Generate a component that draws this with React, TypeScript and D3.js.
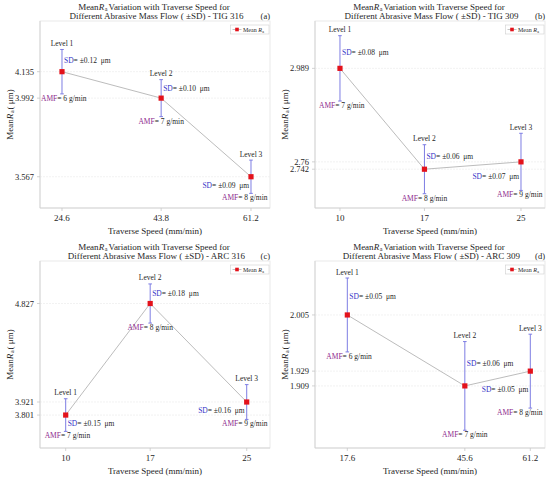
import React from "react";
import * as d3 from "d3";

// ── Data ─────────────────────────────────────────────────────────────
const panelTags = ["(a)", "(b)", "(c)", "(d)"];
const panelNames = ["TIG 316", "TIG 309", "ARC 316", "ARC 309"];
const levelLabels = ["Level 1", "Level 2", "Level 3"];

const traverseSpeeds = [
  [24.6, 43.8, 61.2],
  [10, 17, 25],
  [10, 17, 25],
  [17.6, 45.6, 61.2],
];
const meanRa = [
  [4.135, 3.992, 3.567],
  [2.989, 2.742, 2.76],
  [3.801, 4.827, 3.921],
  [2.005, 1.909, 1.929],
];
const sdValues = [
  [0.12, 0.1, 0.09],
  [0.08, 0.06, 0.07],
  [0.15, 0.18, 0.16],
  [0.05, 0.06, 0.05],
];
const amfValues = [
  [6, 7, 8],
  [7, 8, 9],
  [7, 8, 9],
  [6, 7, 8],
];
// axis limits of each panel
const xDomains = [
  [20.34, 64.88],
  [7.93, 26.99],
  [7.87, 26.93],
  [9.9, 64.7],
];
const yDomains = [
  [3.398, 4.409],
  [2.647, 3.105],
  [3.498, 5.218],
  [1.825, 2.078],
];

const FONT = "Liberation Serif";
const ERR_COLOR = "#7d7de3";
const SD_COLOR = "#3535c8";
const AMF_COLOR = "#8e2b8e";
const LINE_COLOR = "#b4b4b4";
const MARK_COLOR = "#e3121b";
const TEXT_COLOR = "#262626";

const margin = { top: 21, right: 5, bottom: 33, left: 40 };
const PW = 275;
const PH = 241;

function RaLabel({ size }: { size: number }) {
  return (
    <>
      <tspan fontStyle="italic">R</tspan>
      <tspan fontSize={size * 0.68} dx={size * 0.08} dy={size * 0.22}>a</tspan>
    </>
  );
}

function Panel({ idx, ox, oy }: { idx: number; ox: number; oy: number }) {
  const xs = traverseSpeeds[idx];
  const ys = meanRa[idx];
  const sds = sdValues[idx];
  const amfs = amfValues[idx];

  const left = margin.left;
  const right = PW - margin.right;
  const top = margin.top;
  const bottom = PH - margin.bottom;
  const cx = (left + right) / 2;

  const x = d3.scaleLinear().domain(xDomains[idx]).range([left, right]);
  const y = d3.scaleLinear().domain(yDomains[idx]).range([bottom, top]);

  const line = d3
    .line<number>()
    .x((_, i) => x(xs[i]))
    .y((d) => y(d));

  const annot = 7.5;

  return (
    <g transform={`translate(${ox},${oy})`}>
      {/* title */}
      <text x={cx - 1} y={9.5} textAnchor="middle" fontSize={9} fill={TEXT_COLOR}>
        Mean<RaLabel size={9} />
        <tspan dx={0.8} dy={-9 * 0.22}>{"Variation with Traverse Speed for"}</tspan>
      </text>
      <text x={cx + 1.5} y={18.8} textAnchor="middle" fontSize={9} fill={TEXT_COLOR}>
        {`Different Abrasive Mass Flow ( \u00b1SD) - ${panelNames[idx]}`}
      </text>
      <text x={right} y={18.8} textAnchor="end" fontSize={8.5} fill={TEXT_COLOR}>
        {panelTags[idx]}
      </text>

      {/* frame + grid */}
      <rect x={left} y={top} width={right - left} height={bottom - top} fill="#fff" stroke="#e4e4e4" strokeWidth={0.8} />
      {ys.map((v, i) => (
        <line key={"g" + i} x1={left} x2={right} y1={y(v)} y2={y(v)} stroke="#ececec" strokeWidth={0.7} strokeDasharray="2,1" />
      ))}
      <line x1={left} x2={left} y1={top} y2={bottom} stroke="#cfcfcf" strokeWidth={0.8} />
      <line x1={left} x2={right} y1={bottom} y2={bottom} stroke="#cfcfcf" strokeWidth={0.8} />

      {/* y axis */}
      {ys.map((v, i) => (
        <g key={"yt" + i}>
          <line x1={left - 3} x2={left} y1={y(v)} y2={y(v)} stroke="#c8c8c8" strokeWidth={0.8} />
          <text x={left - 6} y={y(v) + 3} textAnchor="end" fontSize={8.5} fill={TEXT_COLOR}>
            {String(v)}
          </text>
        </g>
      ))}
      <text
        transform={`translate(${12.5},${(top + bottom) / 2}) rotate(-90)`}
        textAnchor="middle"
        fontSize={9}
        fill={TEXT_COLOR}
      >
        Mean<RaLabel size={9} />
        <tspan dx={0.8} dy={-9 * 0.22}>( μm)</tspan>
      </text>

      {/* x axis */}
      {xs.map((v, i) => (
        <g key={"xt" + i}>
          <line x1={x(v)} x2={x(v)} y1={bottom} y2={bottom + 3} stroke="#c8c8c8" strokeWidth={0.8} />
          <text x={x(v)} y={bottom + 12.8} textAnchor="middle" fontSize={9} fill={TEXT_COLOR}>
            {String(v)}
          </text>
        </g>
      ))}
      <text x={cx} y={bottom + 25.5} textAnchor="middle" fontSize={9} fill={TEXT_COLOR}>
        Traverse Speed (mm/min)
      </text>

      {/* connecting line */}
      <path d={line(ys) ?? ""} fill="none" stroke={LINE_COLOR} strokeWidth={0.9} />

      {/* error bars, markers, annotations */}
      {ys.map((v, i) => {
        const px = x(xs[i]);
        const py = y(v);
        const yt = y(v + sds[i]);
        const yb = y(v - sds[i]);
        const isFirst = i === 0;
        const isLast = i === ys.length - 1;

        // SD label sits on the side of the bar away from the connecting line
        let sdX = px + 2;
        let sdAnchor: "start" | "end" = "start";
        let sdY = (yt + py) / 2 + 2.5;
        if (isLast) {
          sdX = px - 2;
          sdAnchor = "end";
          sdY = (py + yb) / 2 + 2.5;
        } else {
          const nx = x(xs[i + 1]);
          const ny = y(ys[i + 1]);
          if ((py - ny) / (nx - px) > 0.5) sdY = (py + yb) / 2 + 2.5;
        }

        let amfX = px;
        let amfAnchor: "start" | "middle" | "end" = "middle";
        if (isFirst) {
          amfX = px - 21;
          amfAnchor = "start";
        } else if (isLast) {
          amfX = Math.min(px + 22, right - 2.5);
          amfAnchor = "end";
        }

        return (
          <g key={"pt" + i}>
            <line x1={px} x2={px} y1={yt} y2={yb} stroke={ERR_COLOR} strokeWidth={1} />
            <line x1={px - 1.8} x2={px + 1.8} y1={yt} y2={yt} stroke={ERR_COLOR} strokeWidth={1} />
            <line x1={px - 1.8} x2={px + 1.8} y1={yb} y2={yb} stroke={ERR_COLOR} strokeWidth={1} />
            <rect x={px - 2.6} y={py - 2.6} width={5.2} height={5.2} fill={MARK_COLOR} />

            <text x={px} y={yt - 3.5} textAnchor="middle" fontSize={annot} fill={TEXT_COLOR}>
              {levelLabels[i]}
            </text>
            <text x={sdX} y={sdY} textAnchor={sdAnchor} fontSize={annot} fill={TEXT_COLOR}>
              <tspan fill={SD_COLOR}>SD</tspan>
              <tspan>{`= \u00b1${sds[i].toFixed(2)}\u00a0 μm`}</tspan>
            </text>
            <text x={amfX} y={yb + 7} textAnchor={amfAnchor} fontSize={annot} fill={TEXT_COLOR}>
              <tspan fill={AMF_COLOR}>AMF</tspan>
              <tspan>{`= ${amfs[i]} g/min`}</tspan>
            </text>
          </g>
        );
      })}

      {/* legend */}
      <g>
        <rect x={right - 39.5} y={top + 4} width={38.5} height={9} fill="#fff" stroke="#cfcfcf" strokeWidth={0.6} />
        <line x1={right - 37.5} x2={right - 28.5} y1={top + 8.5} y2={top + 8.5} stroke={LINE_COLOR} strokeWidth={0.8} />
        <rect x={right - 34.8} y={top + 6.7} width={3.6} height={3.6} fill={MARK_COLOR} />
        <text x={right - 27} y={top + 10.6} fontSize={6} fill={TEXT_COLOR}>
          {"Mean "}
          <RaLabel size={6} />
        </text>
      </g>
    </g>
  );
}

export default function App() {
  const offsets = [
    [0, 0],
    [275, 0],
    [0, 240],
    [275, 240],
  ];
  return (
    <div style={{ position: "absolute", left: 0, top: 0 }}>
      <svg
        width={550}
        height={481}
        style={{ display: "block", background: "#fff", fontFamily: `"${FONT}", "Times New Roman", serif` }}
      >
        {offsets.map(([ox, oy], i) => (
          <Panel key={i} idx={i} ox={ox} oy={oy} />
        ))}
      </svg>
    </div>
  );
}
